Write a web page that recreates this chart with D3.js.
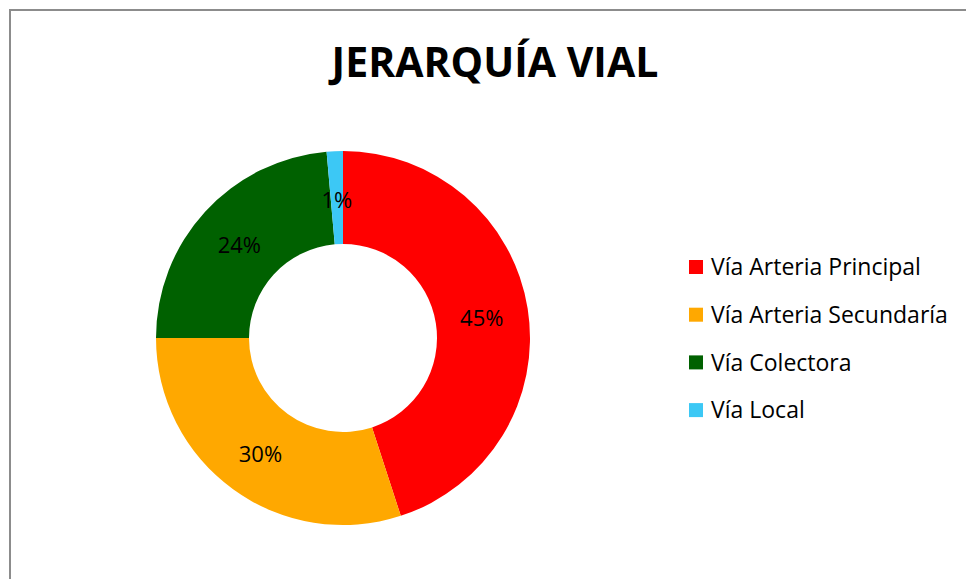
<!DOCTYPE html>
<html>
<head>
<meta charset="utf-8">
<script src="https://cdn.jsdelivr.net/npm/d3@7"></script>
<style>
  html, body { margin: 0; padding: 0; background: #fff; }
  svg { display: block; font-family: "Open Sans", sans-serif; }
</style>
</head>
<body>
<svg id="chart" width="966" height="579"></svg>
<script>
// data
var categories = ["Vía Arteria Principal", "Vía Arteria Secundaría", "Vía Colectora", "Vía Local"]
var values = [45, 30, 23.6, 1.4]
var labels = ["45%", "30%", "24%", "1%"]
var colors = ["#ff0000", "#ffa800", "#006100", "#3cc8f5"]

var width = 966, height = 579
var cx = 343, cy = 338
var outerR = 187, innerR = 94

var svg = d3.select("#chart")

// chart area border (left + top only visible)
svg.append("path")
  .attr("d", "M10," + height + "V10H" + width)
  .attr("fill", "none")
  .attr("stroke", "#8c8c8c")
  .attr("stroke-width", 2)

svg.append("text")
  .attr("x", 495)
  .attr("y", 77)
  .attr("text-anchor", "middle")
  .attr("font-size", 41)
  .attr("font-weight", "bold")
  .attr("fill", "#000")
  .text("JERARQUÍA VIAL")

var pie = d3.pie().sort(null).value(d => d)
var arc = d3.arc().innerRadius(innerR).outerRadius(outerR)
var labelArc = d3.arc().innerRadius((innerR + outerR) / 2).outerRadius((innerR + outerR) / 2)

var g = svg.append("g").attr("transform", "translate(" + cx + "," + cy + ")")
var arcs = pie(values)

g.selectAll("path")
  .data(arcs)
  .join("path")
  .attr("d", arc)
  .attr("fill", (d, i) => colors[i])

g.selectAll("text")
  .data(arcs)
  .join("text")
  .attr("transform", d => "translate(" + labelArc.centroid(d) + ")")
  .attr("text-anchor", "middle")
  .attr("dy", "0.45em")
  .attr("font-size", 22)
  .attr("fill", "#000")
  .text((d, i) => labels[i])

var legend = svg.append("g").attr("transform", "translate(689,0)")
var row = legend.selectAll("g")
  .data(categories)
  .join("g")
  .attr("transform", (d, i) => "translate(0," + (267 + i * 47.7) + ")")

row.append("rect")
  .attr("x", 0)
  .attr("y", -7)
  .attr("width", 14)
  .attr("height", 14)
  .attr("fill", (d, i) => colors[i])

row.append("text")
  .attr("x", 22)
  .attr("dy", "0.36em")
  .attr("font-size", 23)
  .attr("fill", "#000")
  .text(d => d)
</script>
</body>
</html>
